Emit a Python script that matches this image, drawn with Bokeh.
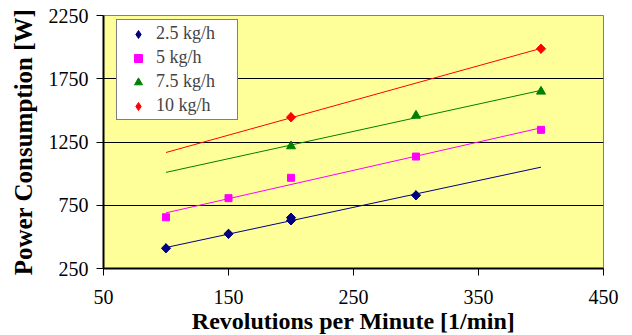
import math
from bokeh.plotting import figure
from bokeh.models import Range1d, FixedTicker, Legend, LegendItem
from bokeh.embed import file_html
from bokeh.resources import INLINE

# ---- data ----
rpm_25 = [100, 150, 200, 200, 300]
pw_25 = [410, 524, 630, 652, 829]
rpm_5 = [100, 150, 200, 300, 400]
pw_5 = [655, 806, 967, 1135, 1346]
rpm_75 = [200, 300, 400]
pw_75 = [1217, 1459, 1649]
rpm_10 = [200, 400]
pw_10 = [1446, 1987]

# linear trend lines (end points)
trend_x = [100, 400]
trend_25 = [416, 1051]
trend_5 = [690, 1362]
trend_75 = [1010, 1658]
trend_10 = [1167, 1990]

x_ticks = [50, 150, 250, 350, 450]
y_ticks = [250, 750, 1250, 1750, 2250]
labels = ["2.5 kg/h", "5 kg/h", "7.5 kg/h", "10 kg/h"]

FONT = "Liberation Serif"

p = figure(frame_width=500, frame_height=253,
           output_backend="svg", toolbar_location=None,
           x_range=Range1d(50, 450), y_range=Range1d(250, 2250),
           min_border_left=103, min_border_right=29, min_border_top=15, min_border_bottom=67)
p.background_fill_color = "#FFFF99"
p.border_fill_color = "white"
p.outline_line_color = "#808080"
p.outline_line_width = 1

p.xgrid.visible = False
p.ygrid.ticker = FixedTicker(ticks=y_ticks[1:-1])
p.ygrid.grid_line_color = "black"
p.ygrid.grid_line_width = 1

p.xaxis.ticker = FixedTicker(ticks=x_ticks)
p.yaxis.ticker = FixedTicker(ticks=y_ticks)
for ax in (p.xaxis[0], p.yaxis[0]):
    ax.axis_line_color = "black"
    ax.axis_line_width = 2
    ax.major_tick_line_color = "black"
    ax.major_tick_out = 7
    ax.major_tick_in = 0
    ax.minor_tick_line_color = None
    ax.major_label_text_font = FONT
    ax.major_label_text_font_size = "20px"
    ax.major_label_text_color = "black"
    ax.axis_label_text_font = FONT
    ax.axis_label_text_font_style = "bold"
    ax.axis_label_text_color = "black"

p.xaxis.axis_label = "Revolutions per Minute [1/min]"
p.yaxis.axis_label = "Power Consumption [W]"
p.xaxis.axis_label_text_font_size = "24px"
p.yaxis.axis_label_text_font_size = "25px"
p.xaxis.major_label_standoff = 14
p.yaxis.major_label_standoff = 8
p.xaxis.axis_label_standoff = 1
p.yaxis.axis_label_standoff = 9

colors = ["#000080", "#FF00FF", "#008000", "#FF0000"]
series = [(rpm_25, pw_25, trend_25, "diamond"),
          (rpm_5, pw_5, trend_5, "square"),
          (rpm_75, pw_75, trend_75, "triangle"),
          (rpm_10, pw_10, trend_10, "diamond")]

items = []
for (xs, ys, tr, mk), c, lab in zip(series, colors, labels):
    p.line(trend_x, tr, line_color=c, line_width=1)
    if mk == "diamond":
        # legend glyph (Bokeh diamond), covered by a wider rotated square on the plot
        r = p.scatter(xs, ys, marker="diamond", size=9, fill_color=c, line_color=c)
        p.scatter(xs, ys, marker="square", size=6.5, angle=math.pi / 4, fill_color=c, line_color=c)
    elif mk == "square":
        r = p.scatter(xs, ys, marker="square", size=7, fill_color=c, line_color=c)
    else:
        r = p.scatter(xs, ys, marker="triangle", size=9, fill_color=c, line_color=c)
    items.append(LegendItem(label=lab, renderers=[r]))

legend = Legend(items=items, location=(13, 148), margin=0, padding=3, spacing=3,
                label_height=20, glyph_height=20, glyph_width=36, label_standoff=0,
                label_width=78,
                label_text_font=FONT, label_text_font_size="18px",
                border_line_color="black", border_line_width=1,
                background_fill_color="white", background_fill_alpha=1.0)
p.add_layout(legend, "center")

open("out.html", "w").write(file_html(p, INLINE))
